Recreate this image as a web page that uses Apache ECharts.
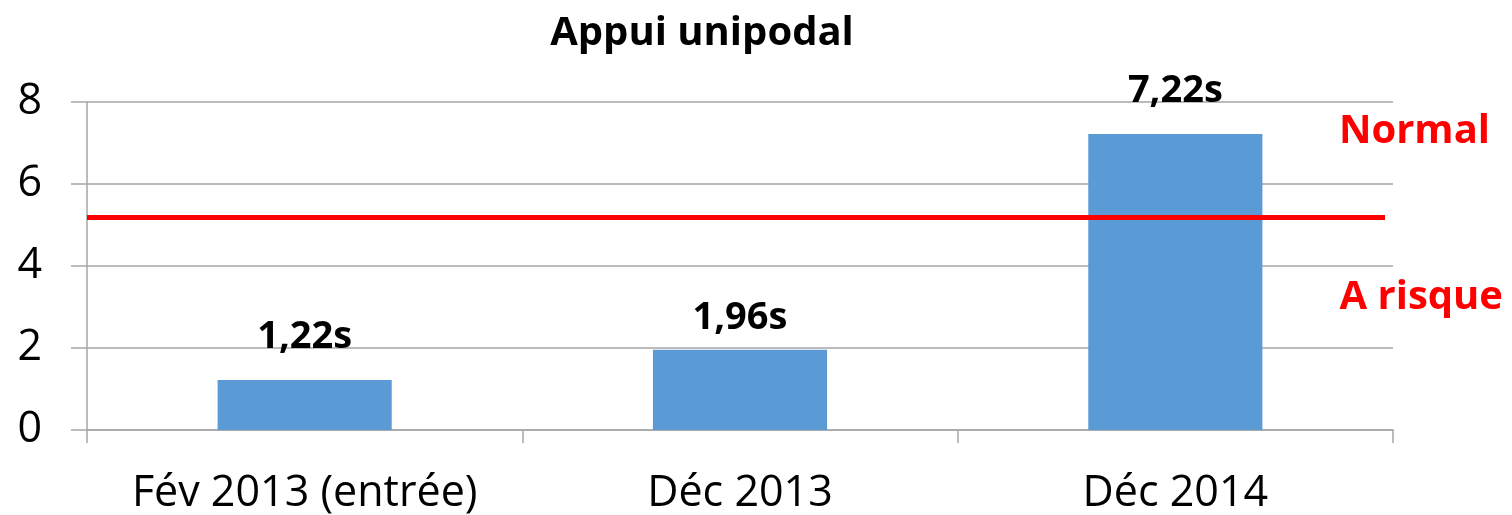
<!DOCTYPE html>
<html>
<head>
<meta charset="utf-8">
<script src="https://cdn.jsdelivr.net/npm/echarts@6/dist/echarts.min.js"></script>
<style>
  html, body { margin: 0; padding: 0; background: #fff; }
  #chart { width: 1512px; height: 515px; }
</style>
</head>
<body>
<div id="chart"></div>
<script>
  // data
  var categories = ['Fév 2013 (entrée)', 'Déc 2013', 'Déc 2014'];
  var values = [1.22, 1.96, 7.22];
  var threshold = 5.2;
  var yTicks = { min: 0, max: 8, interval: 2 };

  var gridColor = '#A6A6A6';
  var font = 'Open Sans';
  // label gaps above each bar (the middle one sits closer in the original)
  var labelGap = [24, 12, 24];

  var myChart = echarts.init(document.getElementById('chart'));

  var barData = values.map(function (v, i) {
    return { value: v, label: { distance: labelGap[i] } };
  });

  var option = {
    backgroundColor: '#fff',
    animation: false,
    textStyle: { fontFamily: font },

    title: {
      text: 'Appui unipodal',
      left: 697,
      top: 9,
      textAlign: 'center',
      textStyle: { fontFamily: font, fontWeight: 'bold', fontSize: 40, color: '#000' }
    },

    grid: { left: 87, right: 119, top: 102, bottom: 85 },

    xAxis: [{
      type: 'category',
      data: categories,
      boundaryGap: true,
      axisLine: { show: true, lineStyle: { color: gridColor, width: 1.5 } },
      axisTick: { show: true, interval: 0, length: 13, lineStyle: { color: gridColor, width: 1.5 } },
      axisLabel: { color: '#000', fontSize: 43, margin: 42, interval: 0, fontFamily: font },
      splitLine: { show: false }
    }],

    yAxis: [{
      type: 'value',
      min: yTicks.min,
      max: yTicks.max,
      interval: yTicks.interval,
      axisLine: { show: true, lineStyle: { color: gridColor, width: 1.5 } },
      axisTick: { show: true, length: 16, lineStyle: { color: gridColor, width: 1.5 } },
      axisLabel: { color: '#000', fontSize: 43, margin: 45, fontFamily: font },
      splitLine: { show: true, lineStyle: { color: gridColor, width: 1.5 } }
    }],

    series: [{
      type: 'bar',
      data: barData,
      barWidth: '40%',
      itemStyle: { color: '#5B9BD5' },
      label: {
        show: true,
        position: 'top',
        color: '#000',
        fontWeight: 'bold',
        fontSize: 38,
        fontFamily: font,
        formatter: function (p) {
          return String(p.value.toFixed(2)).replace('.', ',') + 's';
        }
      },
      markLine: {
        silent: true,
        symbol: 'none',
        label: { show: false },
        lineStyle: { color: '#FF0000', width: 5, type: 'solid' },
        data: [[{ yAxis: threshold, x: 87 }, { yAxis: threshold, x: 1385 }]]
      }
    }],

    graphic: [
      {
        type: 'text', right: 22, top: 112,
        style: { text: 'Normal', fill: '#FF0000', font: 'bold 40px "Open Sans"' }
      },
      {
        type: 'text', right: 9, top: 278,
        style: { text: 'A risque', fill: '#FF0000', font: 'bold 40px "Open Sans"' }
      }
    ]
  };

  myChart.setOption(option);
</script>
</body>
</html>
